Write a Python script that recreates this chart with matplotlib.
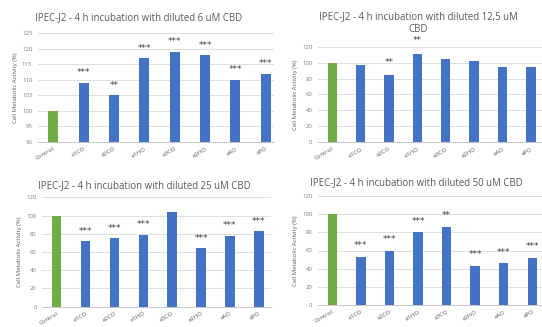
import matplotlib
matplotlib.use("Agg")
import matplotlib.pyplot as plt

categories = ["Control", "e1CO", "e2CO", "e1HO", "e3CO", "e2HO", "eAO", "ePO"]

vals_6 = [100, 109, 105, 117, 119, 118, 110, 112]
stars_6 = ["", "***", "**", "***", "***", "***", "***", "***"]

vals_12 = [100, 97, 84, 111, 105, 102, 94, 95]
stars_12 = ["", "", "**", "**", "", "", "", ""]

vals_25 = [99, 72, 75, 79, 104, 64, 78, 83]
stars_25 = ["", "***", "***", "***", "", "***", "***", "***"]

vals_50 = [100, 53, 60, 80, 86, 43, 46, 52]
stars_50 = ["", "***", "***", "***", "**", "***", "***", "***"]

titles = [
    "IPEC-J2 - 4 h incubation with diluted 6 uM CBD",
    "IPEC-J2 - 4 h incubation with diluted 12,5 uM\nCBD",
    "IPEC-J2 - 4 h incubation with diluted 25 uM CBD",
    "IPEC-J2 - 4 h incubation with diluted 50 uM CBD",
]

GREEN = "#70AD47"
BLUE = "#4472C4"
GRID = "#D9D9D9"
TEXT = "#595959"

W, H = 542, 327
fig = plt.figure(figsize=(W / 100, H / 100), dpi=100)
plt.rcParams["font.family"] = ["Open Sans", "DejaVu Sans"]


def px_axes(left, right, top, bottom):
    return fig.add_axes([left / W, 1 - bottom / H, (right - left) / W, (bottom - top) / H])


def draw(ax, vals, stars, ylim, yticks, xright, star_off, title, tx, ty):
    colors = [GREEN] + [BLUE] * (len(vals) - 1)
    x = list(range(len(vals)))
    ax.bar(x, vals, width=0.33, color=colors, zorder=3)
    ax.set_xlim(-0.5, xright)
    ax.set_ylim(*ylim)
    ax.set_yticks(yticks)
    ax.set_xticks(x)
    ax.set_xticklabels(categories, rotation=30, ha="right", rotation_mode="anchor",
                       fontsize=4.3, color=TEXT)
    ax.tick_params(axis="y", labelsize=4.3, labelcolor="#7F7F7F", length=0, pad=4)
    ax.tick_params(axis="x", length=0, pad=3)
    ax.grid(axis="y", color=GRID, linewidth=0.6, zorder=0)
    for s in ["top", "right", "left"]:
        ax.spines[s].set_visible(False)
    ax.spines["bottom"].set_color("#BFBFBF")
    ax.spines["bottom"].set_linewidth(0.6)
    ax.set_ylabel("Cell Metabolic Activity (%)", fontsize=4.3, color=TEXT, labelpad=3)
    for xi, v, s in zip(x, vals, stars):
        if s:
            ax.annotate(s, (xi, v), xytext=(0, star_off), textcoords="offset pixels",
                        ha="center", va="center", fontsize=6.5, color="#404040",
                        family="DejaVu Sans", annotation_clip=False)
    fig.text(tx / W, 1 - ty / H, title, ha="center", va="center", fontsize=6.9,
             color=TEXT, linespacing=1.25)


ax1 = px_axes(38, 274, 33.3, 142)
draw(ax1, vals_6, stars_6, (90, 125), range(90, 126, 5), 7.27, 10, titles[0], 139, 18)

ax2 = px_axes(318, 542, 46.7, 142.3)
draw(ax2, vals_12, stars_12, (0, 120), range(0, 121, 20), 7.39, 13, titles[1], 418, 23.5)

ax3 = px_axes(42.2, 271, 197.3, 306.7)
draw(ax3, vals_25, stars_25, (0, 120), range(0, 121, 20), 7.42, 10, titles[2], 144, 185.7)

ax4 = px_axes(318, 542, 196, 305)
draw(ax4, vals_50, stars_50, (0, 120), range(0, 121, 20), 7.34, 11, titles[3], 416, 182.3)

fig.savefig("out.png", dpi=100)
